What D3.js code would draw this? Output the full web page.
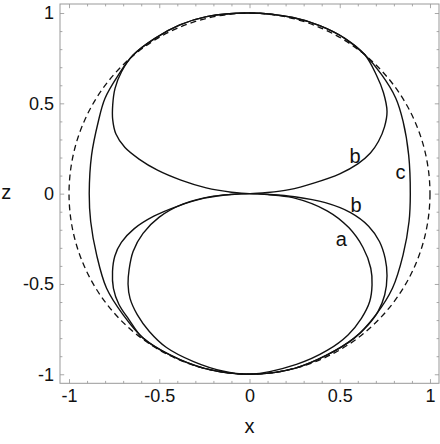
<!DOCTYPE html>
<html lang="en">
<head>
<meta charset="UTF-8" />
<title>Curves a, b, c in the x-z plane</title>
<script src="https://d3js.org/d3.v7.min.js"></script>
<style>
  body { margin: 0; background: #fff; }
  svg { display: block; font-family: 'Liberation Sans', Arial, sans-serif; }
  .tick text { font-size: 18px; fill: #111; }
  .tick line { stroke: #a8a8a8; }
  .curve { fill: none; stroke: #111; stroke-width: 1.4px; }
  .ref { fill: none; stroke: #111; stroke-width: 1.3px; stroke-dasharray: 6,4; }
  .frame { fill: none; stroke: #999; stroke-width: 1px; }
  .lbl { font-size: 20px; fill: #111; }
</style>
</head>
<body>
<div id="chart"></div>
<script>
// tick values and labels
const majorTicks = [-1, -0.5, 0, 0.5, 1];
const tickLabels = ["-1", "-0.5", "0", "0.5", "1"];
const minorTicks = [-0.9, -0.8, -0.7, -0.6, -0.4, -0.3, -0.2, -0.1,
                    0.1, 0.2, 0.3, 0.4, 0.6, 0.7, 0.8, 0.9];

// dashed reference: unit circle
const circleRadius = 1;

// curve c (closed)
const curveC = [
  [0, 1], [0.24, 0.975], [0.389, 0.93], [0.528, 0.86], [0.638, 0.77],
  [0.731, 0.66], [0.81, 0.53], [0.851, 0.4], [0.882, 0.213], [0.891, 0],
  [0.884, -0.154], [0.851, -0.339], [0.792, -0.524], [0.7, -0.671],
  [0.58, -0.8], [0.43, -0.893], [0.25, -0.967], [0, -1],
  [-0.25, -0.967], [-0.441, -0.893], [-0.589, -0.8], [-0.7, -0.671],
  [-0.792, -0.524], [-0.847, -0.339], [-0.88, -0.154], [-0.888, 0],
  [-0.875, 0.213], [-0.838, 0.398], [-0.801, 0.527], [-0.727, 0.656],
  [-0.645, 0.767], [-0.524, 0.86], [-0.386, 0.934], [-0.238, 0.98]
];

// curve b, upper lobe
const curveBUpper = [
  [0, 0], [0.1, 0.006], [0.22, 0.022], [0.36, 0.06], [0.5, 0.11],
  [0.6, 0.165], [0.67, 0.225], [0.715, 0.29], [0.748, 0.37], [0.762, 0.455],
  [0.742, 0.56], [0.703, 0.657], [0.638, 0.77], [0.528, 0.86], [0.389, 0.93],
  [0.24, 0.975], [0, 1], [-0.238, 0.98], [-0.386, 0.934], [-0.524, 0.86],
  [-0.645, 0.767], [-0.709, 0.675], [-0.745, 0.583], [-0.758, 0.49],
  [-0.758, 0.41], [-0.74, 0.33], [-0.69, 0.255], [-0.61, 0.19],
  [-0.51, 0.13], [-0.38, 0.075], [-0.24, 0.032], [-0.1, 0.008]
];

// curve b, lower lobe
const curveBLower = [
  [0, 0], [0.1, -0.004], [0.25, -0.017], [0.42, -0.05], [0.56, -0.105],
  [0.66, -0.18], [0.72, -0.265], [0.752, -0.36], [0.762, -0.455],
  [0.749, -0.561], [0.712, -0.653], [0.657, -0.727], [0.58, -0.8],
  [0.43, -0.893], [0.25, -0.967], [0, -1], [-0.25, -0.967],
  [-0.441, -0.893], [-0.595, -0.795], [-0.668, -0.697], [-0.724, -0.612],
  [-0.754, -0.524], [-0.759, -0.431], [-0.746, -0.345], [-0.71, -0.27],
  [-0.64, -0.195], [-0.53, -0.125], [-0.4, -0.07], [-0.25, -0.025],
  [-0.1, -0.005]
];

// curve a (lower lobe only)
const curveA = [
  [0, 0], [0.1, -0.005], [0.24, -0.022], [0.43, -0.095], [0.55, -0.188],
  [0.629, -0.298], [0.672, -0.413], [0.679, -0.505], [0.666, -0.597],
  [0.62, -0.69], [0.546, -0.782], [0.43, -0.868], [0.26, -0.945], [0, -1],
  [-0.15, -0.982], [-0.31, -0.93], [-0.46, -0.852], [-0.555, -0.763],
  [-0.622, -0.67], [-0.662, -0.58], [-0.673, -0.5], [-0.667, -0.42],
  [-0.645, -0.32], [-0.59, -0.22], [-0.5, -0.13], [-0.37, -0.058],
  [-0.2, -0.014], [-0.1, -0.004]
];

// curve labels: name, x, z (baseline position)
const labelNames = ["b", "c", "b", "a"];
const labelX = [0.585, 0.837, 0.59, 0.509];
const labelZ = [0.171, 0.079, -0.101, -0.291];

const width = 440, height = 444;

const svg = d3.select("#chart").append("svg")
  .attr("width", width)
  .attr("height", height);

const x = d3.scaleLinear().domain([-1.05, 1.05]).range([60, 439]);
const y = d3.scaleLinear().domain([-1.05, 1.05]).range([383.3, 4]);

// ticks on all four sides, pointing inward
function addAxis(axisFn, scale, transform, values, size, labels) {
  const ax = axisFn(scale).tickValues(values).tickSize(-size).tickSizeOuter(0)
    .tickFormat(labels ? (d, i) => labels[i] : "");
  if (labels) ax.tickPadding(axisFn === d3.axisBottom ? 5.6 : 6);
  const g = svg.append("g").attr("transform", transform).call(ax);
  g.select(".domain").remove();
  return g;
}

const [x0, x1] = x.range();
const [y0, y1] = y.range();

addAxis(d3.axisBottom, x, `translate(0,${y0})`, minorTicks, 2.4);
addAxis(d3.axisBottom, x, `translate(0,${y0})`, majorTicks, 4.2, tickLabels);
addAxis(d3.axisTop, x, `translate(0,${y1})`, minorTicks, 2.4);
addAxis(d3.axisTop, x, `translate(0,${y1})`, majorTicks, 4.2);
addAxis(d3.axisLeft, y, `translate(${x0},0)`, minorTicks, 2.4);
addAxis(d3.axisLeft, y, `translate(${x0},0)`, majorTicks, 4.2, tickLabels);
addAxis(d3.axisRight, y, `translate(${x1},0)`, minorTicks, 2.4);
addAxis(d3.axisRight, y, `translate(${x1},0)`, majorTicks, 4.2);

svg.append("rect")
  .attr("class", "frame")
  .attr("x", x0).attr("y", y1)
  .attr("width", x1 - x0).attr("height", y0 - y1);

// curves
const line = d3.line()
  .x(d => x(d[0]))
  .y(d => y(d[1]))
  .curve(d3.curveCatmullRomClosed.alpha(0.5));

[curveC, curveBUpper, curveBLower, curveA].forEach(pts => {
  svg.append("path").attr("class", "curve").attr("d", line(pts));
});

svg.append("circle")
  .attr("class", "ref")
  .attr("cx", x(0)).attr("cy", y(0))
  .attr("r", x(circleRadius) - x(0));

// curve labels
svg.selectAll(".lbl")
  .data(labelNames)
  .enter().append("text")
  .attr("class", "lbl")
  .attr("x", (d, i) => x(labelX[i]))
  .attr("y", (d, i) => y(labelZ[i]))
  .attr("text-anchor", "middle")
  .text(d => d);

// axis titles
svg.append("text")
  .attr("class", "lbl")
  .attr("x", x(0))
  .attr("y", 432.5)
  .attr("text-anchor", "middle")
  .text("x");

svg.append("text")
  .attr("class", "lbl")
  .attr("x", 6.3)
  .attr("y", y(0) + 5)
  .attr("text-anchor", "middle")
  .text("z");
</script>
</body>
</html>
